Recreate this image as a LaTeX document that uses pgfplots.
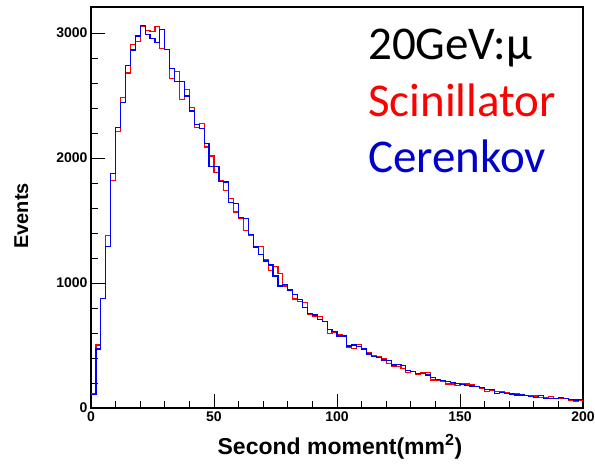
\documentclass[border=0pt]{standalone}
\usepackage{fontspec}
\setmainfont{Liberation Sans}
\newfontfamily\calib{Carlito}
\usepackage{pgfplots}
\usepackage{pgfplotstable}
\pgfplotsset{compat=1.18}
\pgfplotstableread{
x red blue
0 115 110
2 504 472
4 877 877
6 1379 1291
8 1819 1877
10 2210 2245
12 2485 2445
14 2680 2742
16 2909 2864
18 2933 2976
20 3051 3061
22 3019 2989
24 3012 2957
26 3054 2925
28 2877 3029
30 2865 2866
32 2637 2717
34 2693 2610
36 2465 2614
38 2549 2496
40 2405 2376
42 2245 2270
44 2277 2237
46 2088 2115
48 2016 1931
50 1886 1934
52 1821 1815
54 1740 1808
56 1675 1647
58 1568 1637
60 1517 1525
62 1421 1517
64 1380 1386
66 1291 1288
68 1291 1230
70 1186 1176
72 1100 1144
74 1131 1056
76 1077 976
78 976 989
80 949 944
82 872 909
84 851 869
86 845 805
88 752 757
90 731 744
92 731 709
94 691 691
96 597 629
98 608 611
100 584 576
102 571 576
104 485 496
106 477 504
108 509 493
110 477 472
112 443 432
114 419 411
116 411 403
118 397 384
120 357 379
122 336 344
124 333 349
126 317 339
128 283 299
130 291 291
132 272 277
134 283 277
136 283 264
138 224 245
140 219 229
142 211 219
144 192 211
146 192 203
148 179 197
150 192 189
152 192 179
154 189 176
156 171 171
158 157 163
160 131 149
162 139 149
164 131 117
166 131 123
168 123 117
170 112 112
172 112 104
174 104 104
176 99 99
178 99 91
180 96 85
182 85 99
184 85 77
186 91 77
188 77 77
190 77 83
192 77 77
194 64 69
196 56 64
198 64 69
200 64 69
}\histdata

\begin{document}
\begin{tikzpicture}
\useasboundingbox (-91pt,-56pt) rectangle (504pt,408pt);
\begin{axis}[
  at={(0pt,0pt)}, anchor=south west,
  scale only axis, width=492pt, height=401pt,
  xmin=0, xmax=200, ymin=0, ymax=3208,
  xtick={0,50,100,150,200}, ytick={0,1000,2000,3000},
  minor x tick num=4, minor y tick num=4,
  tick align=inside, tick pos=left,
  major tick length=14pt, minor tick length=7pt,
  axis line style={line width=1.1pt},
  every tick/.style={black, line width=0.9pt},
  /pgf/number format/assume math mode=true,
  /pgf/number format/1000 sep={},
  scaled y ticks=false,
  tick label style={font=\fontsize{14}{16}\selectfont\bfseries},
  xlabel={Second moment(mm\textsuperscript{2})},
  xlabel style={at={(axis description cs:0.506,-0.117)}, anchor=base, font=\fontsize{23}{26}\selectfont\bfseries},
  ylabel={Events},
  ylabel style={at={(axis description cs:-0.128,0.479)}, anchor=base, font=\fontsize{20}{23}\selectfont\bfseries},
]
\addplot[const plot, draw={rgb,255:red,255;green,0;blue,0}, line width=1.2pt] table[x=x,y=red] {\histdata};
\addplot[const plot, draw={rgb,255:red,0;green,0;blue,255}, line width=1.2pt] table[x=x,y=blue] {\histdata};
\end{axis}
\node[anchor=base west, inner sep=0pt, font=\calib\fontsize{47}{50}\selectfont] at (277pt,348pt) {20GeV:μ};
\node[anchor=base west, inner sep=0pt, font=\calib\fontsize{47}{50}\selectfont, text={rgb,255:red,255;green,0;blue,0}] at (277pt,291pt) {Scinillator};
\node[anchor=base west, inner sep=0pt, font=\calib\fontsize{47}{50}\selectfont, text={rgb,255:red,0;green,0;blue,205}] at (277pt,235pt) {Cerenkov};
\end{tikzpicture}
\end{document}
